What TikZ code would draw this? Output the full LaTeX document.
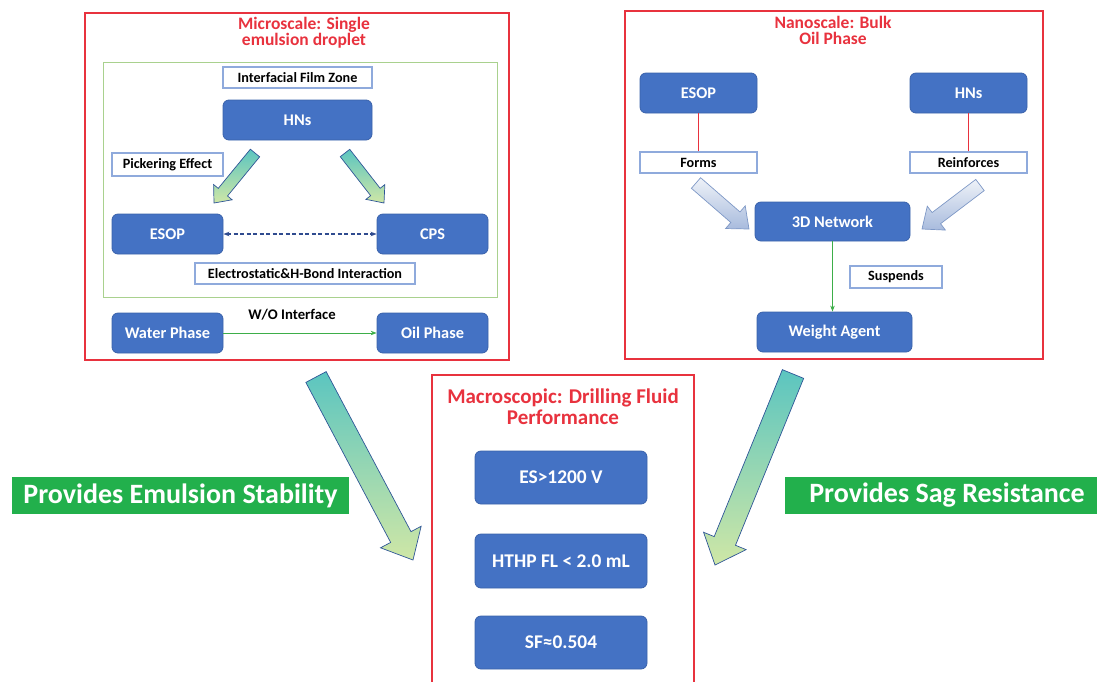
\documentclass[tikz,border=0pt]{standalone}
\usepackage{fontspec}
\setmainfont{Carlito}
\usetikzlibrary{calc,arrows.meta}
\definecolor{BoxBlue}{HTML}{4472C4}
\definecolor{BoxEdge}{HTML}{3A62AA}
\definecolor{TagEdge}{HTML}{8FAADC}
\definecolor{FrameRed}{HTML}{E8323E}
\definecolor{FilmGreen}{HTML}{A9D18E}
\definecolor{LabelGreen}{HTML}{22B04C}
\definecolor{LinkGreen}{HTML}{3DAE49}
\definecolor{LinkNavy}{HTML}{2F4B8F}
\definecolor{ArrowTeal}{HTML}{5BC5C0}
\definecolor{ArrowLime}{HTML}{CFE7A6}
\definecolor{ArrowEdge}{HTML}{2E5597}
\definecolor{PaleTop}{HTML}{EEF2F8}
\definecolor{PaleBottom}{HTML}{A8BBDD}
\definecolor{PaleEdge}{HTML}{7E98C6}

\tikzset{
  block/.style={draw=BoxEdge,fill=BoxBlue,rounded corners=6pt,text=white,
    font=\bfseries\fontsize{16.3}{18}\selectfont,line width=0.8pt},
  bigblock/.style={block,font=\bfseries\fontsize{19.4}{21}\selectfont,minimum width=172pt},
  tag/.style={draw=TagEdge,fill=white,line width=1.2pt,
    font=\bfseries\fontsize{14.2}{16}\selectfont},
  frame/.style={draw=FrameRed,line width=1.2pt},
  heading/.style={text=FrameRed,font=\bfseries\fontsize{17.5}{16}\selectfont,align=center},
  banner/.style={fill=LabelGreen,text=white,font=\bfseries\fontsize{28}{30}\selectfont},
  tealarrow/.style={draw=ArrowEdge,top color=ArrowTeal,bottom color=ArrowLime,line width=0.7pt},
  palearrow/.style={draw=PaleEdge,top color=PaleTop,bottom color=PaleBottom,line width=0.7pt},
}

% block arrow: tail, tip, shaft half width, head half width, head length, style
\newcommand{\blockarrow}[6]{%
  \coordinate (ba-base) at ($(#2)!#5!(#1)$);
  \path[#6] ($(#1)!#3!90:(#2)$) -- ($(ba-base)!#3!90:(#2)$) -- ($(ba-base)!#4!90:(#2)$)
    -- (#2) -- ($(ba-base)!#4!-90:(#2)$) -- ($(ba-base)!#3!-90:(#2)$)
    -- ($(#1)!#3!-90:(#2)$) -- cycle;}

\begin{document}
\begin{tikzpicture}[x=1pt,y=-1pt]
  \useasboundingbox (0,0) rectangle (1097,681);

  % microscale
  \draw[frame] (85,13) rectangle (509,360);
  \node[heading] (micro) at (304,32.5) {Microscale: Single\\emulsion droplet};
  \draw[FilmGreen,line width=1pt] (103,62) rectangle (497,297);
  \node[tag,minimum width=149pt,minimum height=21pt] (film) at (297.5,77.5) {Interfacial Film Zone};
  \node[block,minimum width=149pt,minimum height=40pt] (hnsA) at (297.5,120) {HNs};
  \node[tag,minimum width=111pt,minimum height=23pt] (pickering) at (167.5,164.5) {Pickering Effect};
  \node[block,minimum width=111pt,minimum height=40pt] (esopA) at (167.5,234) {ESOP};
  \node[block,minimum width=111pt,minimum height=40pt] (cps) at (432.5,234) {CPS};
  \node[tag,minimum width=220pt,minimum height=21pt] (elec) at (305,273.5) {Electrostatic\&H-Bond Interaction};
  \node[block,minimum width=111pt,minimum height=40pt] (water) at (167.5,333) {Water Phase};
  \node[block,minimum width=111pt,minimum height=40pt] (oil) at (432.5,333) {Oil Phase};
  \node[font=\bfseries\fontsize{14.7}{16}\selectfont] (wo) at (292,315) {W/O Interface};

  \coordinate (tA1) at (255,153); \coordinate (pA1) at (214,203);
  \coordinate (tA2) at (345,153); \coordinate (pA2) at (384,203);
  \blockarrow{tA1}{pA1}{6pt}{12pt}{14pt}{tealarrow}
  \blockarrow{tA2}{pA2}{6pt}{12pt}{14pt}{tealarrow}

  \draw[LinkNavy,dash pattern=on 4pt off 2.5pt,line width=1.1pt,{Stealth[open,length=6pt]}-{Stealth[open,length=6pt]}]
    (esopA) -- (cps);
  \draw[LinkGreen,line width=1pt,-{Stealth[length=6pt]}] (water) -- (oil);

  % nanoscale
  \draw[frame] (625,11) rectangle (1043,359);
  \node[heading] (nano) at (833,30) {Nanoscale: Bulk\\Oil Phase};
  \node[block,minimum width=117pt,minimum height=40pt] (esopB) at (698.5,93) {ESOP};
  \node[block,minimum width=117pt,minimum height=40pt] (hnsB) at (968.5,93) {HNs};
  \node[tag,minimum width=117pt,minimum height=21pt] (forms) at (698.5,162.5) {Forms};
  \node[tag,minimum width=117pt,minimum height=21pt] (reinforces) at (968.5,162.5) {Reinforces};
  \node[block,minimum width=155pt,minimum height=39pt] (network) at (832.5,221.5) {3D Network};
  \node[block,minimum width=155pt,minimum height=40pt] (weight) at (834.5,332) {Weight Agent};
  \node[tag,minimum width=92pt,minimum height=22pt] (suspends) at (896,277) {Suspends};

  \draw[FrameRed,line width=1pt] (esopB) -- (forms);
  \draw[FrameRed,line width=1pt] (hnsB) -- (reinforces);
  \draw[LinkGreen,line width=1pt,-{Stealth[length=6pt]}] (network.south) -- (network.south |- weight.north);

  \coordinate (tB1) at (696,183); \coordinate (pB1) at (749,229);
  \coordinate (tB2) at (980,185); \coordinate (pB2) at (922,229);
  \blockarrow{tB1}{pB1}{7pt}{15pt}{18pt}{palearrow}
  \blockarrow{tB2}{pB2}{7pt}{15pt}{18pt}{palearrow}

  % macroscopic
  \draw[frame] (432,685) -- (432,375) -- (694,375) -- (694,685);
  \node[heading,font=\bfseries\fontsize{21}{21}\selectfont] (macro) at (563,407) {Macroscopic: Drilling Fluid\\Performance};
  \node[bigblock,minimum height=53pt] (es) at (561,477.5) {ES>1200 V};
  \node[bigblock,minimum height=54pt] (hthp) at (561,561) {HTHP FL < 2.0 mL};
  \node[bigblock,minimum height=53pt] (sf) at (561,642.5) {SF≈0.504};

  \coordinate (tL) at (316,377); \coordinate (pL) at (413,560);
  \coordinate (tR) at (793,374); \coordinate (pR) at (715,565);
  \blockarrow{tL}{pL}{11.5pt}{23pt}{26pt}{tealarrow}
  \blockarrow{tR}{pR}{11.5pt}{23pt}{26pt}{tealarrow}

  \node[banner,minimum width=337pt,minimum height=37pt] (stability) at (180.5,495.5) {Provides Emulsion Stability};
  \node[banner,minimum width=324pt,minimum height=37pt] (sag) at (947,495.5) {Provides Sag Resistance};
\end{tikzpicture}
\end{document}
